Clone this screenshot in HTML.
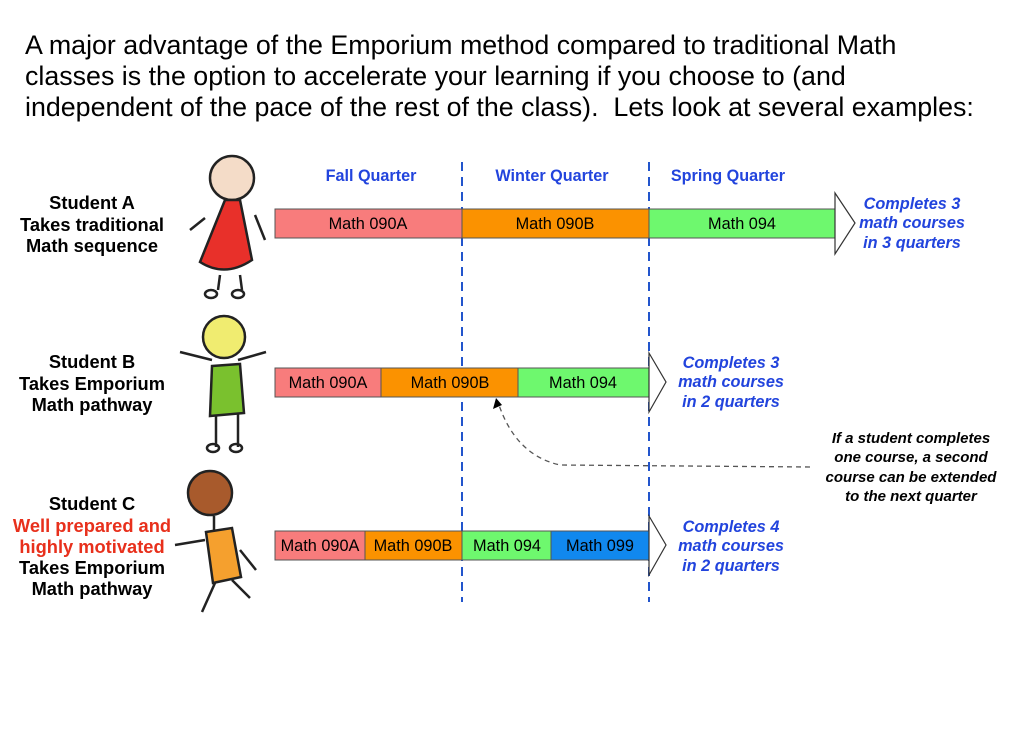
<!DOCTYPE html>
<html><head><meta charset="utf-8"><style>
body{margin:0;width:1024px;height:748px;background:#fff;overflow:hidden;font-family:"Liberation Sans",sans-serif}
.t{position:absolute;left:25px;top:30px;font-size:26.8px;line-height:31px;color:#000;white-space:nowrap}
</style></head><body>
<div class="t">A major advantage of the Emporium method compared to traditional Math<br>classes is the option to accelerate your learning if you choose to (and<br>independent of the pace of the rest of the class).&nbsp; Lets look at several examples:</div>
<svg width="1024" height="748" style="position:absolute;left:0;top:0" font-family="Liberation Sans, sans-serif">
<g stroke="#2255cc" stroke-width="2" stroke-dasharray="9,6"><line x1="462" y1="162" x2="462" y2="602"/><line x1="649" y1="162" x2="649" y2="602"/></g>
<g font-weight="bold" font-size="16.2" fill="#2244dd" text-anchor="middle"><text x="371" y="181">Fall Quarter</text><text x="552" y="181">Winter Quarter</text><text x="728" y="181">Spring Quarter</text></g>
<g stroke="#555" stroke-width="1">
<rect x="275" y="209" width="187" height="29" fill="#f87c7c"/><rect x="462" y="209" width="187" height="29" fill="#fb9200"/><rect x="649" y="209" width="186" height="29" fill="#6ef86e"/>
<rect x="275" y="368" width="106" height="29" fill="#f87c7c"/><rect x="381" y="368" width="137" height="29" fill="#fb9200"/><rect x="518" y="368" width="131" height="29" fill="#6ef86e"/>
<rect x="275" y="531" width="90" height="29" fill="#f87c7c"/><rect x="365" y="531" width="97" height="29" fill="#fb9200"/><rect x="462" y="531" width="89" height="29" fill="#6ef86e"/><rect x="551" y="531" width="98" height="29" fill="#1188ee"/>
</g>
<g fill="#fff" stroke="#333" stroke-width="1.2"><path d="M835 193 L855 223 L835 254 Z"/><path d="M649 353 L666 382 L649 412 Z"/><path d="M649 516 L666 545 L649 575 Z"/></g>
<g font-size="16.3" text-anchor="middle" fill="#000">
<text x="368" y="229">Math 090A</text><text x="555" y="229">Math 090B</text><text x="742" y="229">Math 094</text>
<text x="328" y="388">Math 090A</text><text x="450" y="388">Math 090B</text><text x="583" y="388">Math 094</text>
<text x="320" y="551">Math 090A</text><text x="413" y="551">Math 090B</text><text x="507" y="551">Math 094</text><text x="600" y="551">Math 099</text>
</g>
<g font-weight="bold" font-style="italic" font-size="16.3" fill="#2244dd" text-anchor="middle">
<text x="912" y="209">Completes 3</text><text x="912" y="228">math courses</text><text x="912" y="248">in 3 quarters</text>
<text x="731" y="368">Completes 3</text><text x="731" y="387">math courses</text><text x="731" y="407">in 2 quarters</text>
<text x="731" y="532">Completes 4</text><text x="731" y="551">math courses</text><text x="731" y="571">in 2 quarters</text>
</g>
<g font-weight="bold" font-style="italic" font-size="15" fill="#000" text-anchor="middle">
<text x="911" y="443">If a student completes</text><text x="911" y="462">one course, a second</text><text x="911" y="482">course can be extended</text><text x="911" y="501">to the next quarter</text>
</g>
<path d="M810 467 L560 465 Q515 455 498 402" fill="none" stroke="#555" stroke-width="1.3" stroke-dasharray="5,4"/>
<path d="M496 398 L493 409 L502 405 Z" fill="#000"/>
<g font-weight="bold" font-size="18.3" fill="#000" text-anchor="middle">
<text x="92" y="209">Student A</text><text x="92" y="231">Takes traditional</text><text x="92" y="252">Math sequence</text>
<text x="92" y="368">Student B</text><text x="92" y="390">Takes Emporium</text><text x="92" y="411">Math pathway</text>
<text x="92" y="510">Student C</text><text x="92" y="532" fill="#e8301c">Well prepared and</text><text x="92" y="553" fill="#e8301c">highly motivated</text><text x="92" y="574">Takes Emporium</text><text x="92" y="595">Math pathway</text>
</g>
<g stroke="#222" stroke-width="2.5" fill="none">
<circle cx="232" cy="178" r="22" fill="#f4dcc8"/><path d="M205 218 L190 230 M255 215 L265 240 M220 275 L218 290 M240 275 L242 290"/>
<path d="M225 200 L200 262 Q225 278 252 260 L240 200 Z" fill="#e8302a"/>
<ellipse cx="211" cy="294" rx="6" ry="4"/><ellipse cx="238" cy="294" rx="6" ry="4"/>
<circle cx="224" cy="337" r="21" fill="#f0ec70"/><path d="M212 360 L180 352 M238 360 L266 352"/>
<path d="M212 366 L240 364 L244 413 L210 416 Z" fill="#7ac12e"/><path d="M216 416 L216 447 M238 414 L238 447"/>
<ellipse cx="213" cy="448" rx="6" ry="4"/><ellipse cx="236" cy="448" rx="6" ry="4"/>
<circle cx="210" cy="493" r="22" fill="#a85a2c"/><path d="M214 516 L214 532 M205 540 L175 545 M240 550 L256 570"/>
<path d="M206 532 L232 528 L241 577 L213 583 Z" fill="#f5a02e"/><path d="M215 583 L202 612 M232 580 L250 598"/>
</g>
</svg>
</body></html>
